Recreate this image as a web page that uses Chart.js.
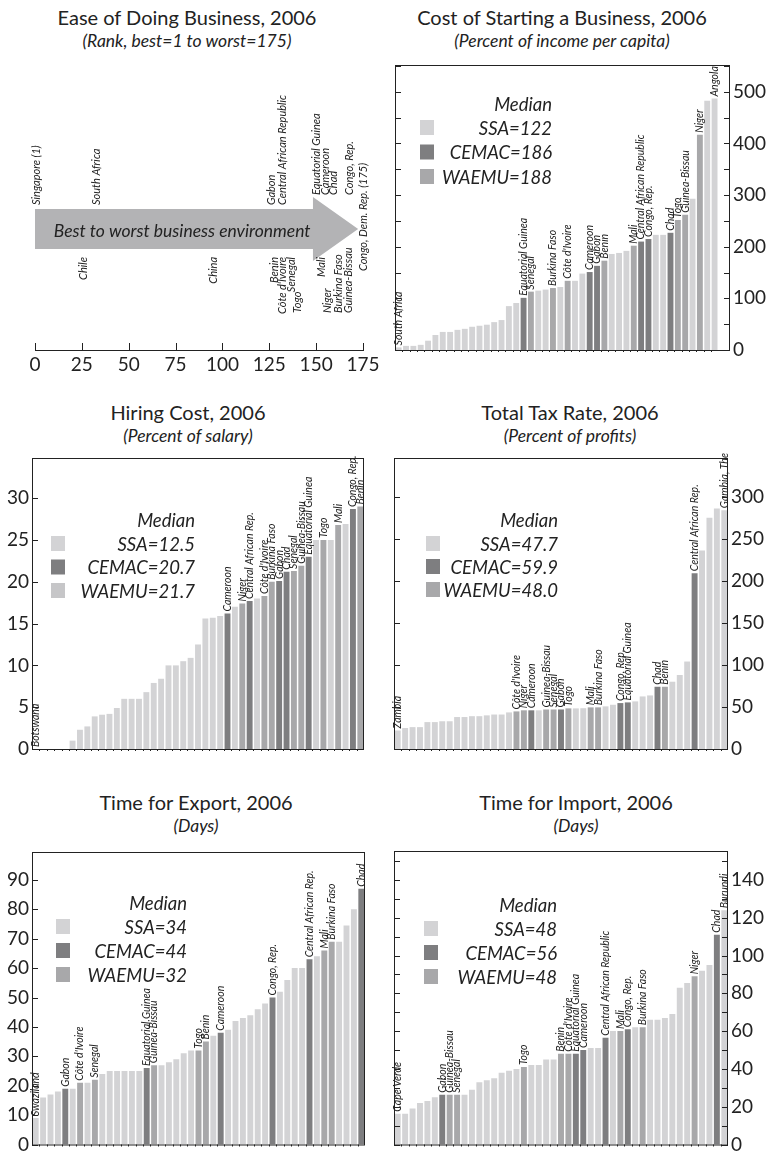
<!DOCTYPE html>
<html lang="en">
<head>
<meta charset="utf-8">
<title>Doing Business indicators, 2006</title>
<script src="https://cdn.jsdelivr.net/npm/chart.js@4.4.1/dist/chart.umd.min.js"></script>
<style>
  html, body { margin: 0; padding: 0; background: #fff; }
  body { position: relative; width: 771px; height: 1157px; overflow: hidden;
         font-family: Lato, "Open Sans", sans-serif; color: #222; }
  .title, .sub { position: absolute; width: 380px; text-align: center; white-space: nowrap; }
  .title { font-size: 20px; line-height: 24px; }
  .sub { font-size: 17.5px; line-height: 21px; font-style: italic; }
  .panel { position: absolute; }
  .panel canvas { display: block; }
</style>
</head>
<body>

<div class="title" style="left:-3px;top:5px">Ease of Doing Business, 2006</div>
<div class="sub" style="left:-3px;top:30px">(Rank, best=1 to worst=175)</div>
<div class="title" style="left:372px;top:5px">Cost of Starting a Business, 2006</div>
<div class="sub" style="left:372px;top:30px">(Percent of income per capita)</div>

<div class="title" style="left:-2px;top:400px">Hiring Cost, 2006</div>
<div class="sub" style="left:-2px;top:425px">(Percent of salary)</div>
<div class="title" style="left:380px;top:400px">Total Tax Rate, 2006</div>
<div class="sub" style="left:380px;top:425px">(Percent of profits)</div>

<div class="title" style="left:6px;top:790px">Time for Export, 2006</div>
<div class="sub" style="left:6px;top:815px">(Days)</div>
<div class="title" style="left:386px;top:790px">Time for Import, 2006</div>
<div class="sub" style="left:386px;top:815px">(Days)</div>

<div class="panel" style="left:0;top:60px"><canvas id="ease" width="385" height="320"></canvas></div>
<div class="panel" style="left:385px;top:48px"><canvas id="cost" width="386" height="316"></canvas></div>
<div class="panel" style="left:0;top:441px"><canvas id="hiring" width="385" height="322"></canvas></div>
<div class="panel" style="left:385px;top:441px"><canvas id="tax" width="386" height="322"></canvas></div>
<div class="panel" style="left:0;top:835px"><canvas id="export" width="385" height="322"></canvas></div>
<div class="panel" style="left:385px;top:834px"><canvas id="import" width="386" height="323"></canvas></div>

<script>
// ---------- Ease of Doing Business: rank out of 175 economies ----------
const easeCountries = ['Singapore (1)', 'Chile', 'South Africa', 'China', 'Gabon', 'Benin',
  'Central African Republic', "Côte d'Ivoire", 'Senegal', 'Togo', 'Equatorial Guinea', 'Mali',
  'Cameroon', 'Niger', 'Chad', 'Burkina Faso', 'Guinea-Bissau', 'Congo, Rep.', 'Congo, Dem. Rep. (175)'];
const easeRanks = [1, 26, 33, 95, 126, 128, 132, 132, 137, 140, 150, 153, 155, 156, 159, 162, 167, 168, 175];
const rankTicks = [0, 25, 50, 75, 100, 125, 150, 175];

// ---------- Cost of starting a business (% of income per capita), sorted ----------
const costValues = [5, 8, 8, 10, 18, 29, 35, 35, 39, 41, 45, 47, 49, 54, 58, 85, 91, 101, 113, 115,
  117, 120, 122, 134, 134, 148, 151, 163, 173, 186, 188, 192, 202, 210, 215, 223, 223, 227, 252, 262,
  293, 417, 483, 487];
const costGroups = 'SSSSSSSSSSSSSSSSSCWSSWSWSSCCWSSSWCCSSCWWSWSS'.split('');
const costNames = { 0: 'South Africa', 17: 'Equatorial Guinea', 18: 'Senegal', 21: 'Burkina Faso',
  23: "Côte d'Ivoire", 26: 'Cameroon', 27: 'Gabon', 28: 'Benin', 32: 'Mali',
  33: 'Central African Republic', 34: 'Congo, Rep.', 37: 'Chad', 38: 'Togo', 39: 'Guinea-Bissau',
  41: 'Niger', 43: 'Angola' };
const costMedians = { S: 122, C: 186, W: 188 };
const costTicks = [0, 50, 100, 150, 200, 250, 300, 350, 400, 450, 500, 550];
const costTickLabels = [0, 100, 200, 300, 400, 500];

// ---------- Hiring cost (% of salary), sorted ----------
const hiringValues = [0, 0, 0, 0, 0, 1.0, 2.3, 2.7, 3.9, 4.1, 4.2, 4.9, 6.0, 6.0, 6.0, 6.8, 7.9, 8.4,
  10.0, 10.0, 10.5, 10.9, 12.5, 15.6, 15.7, 15.9, 16.2, 17.0, 17.4, 17.7, 18.0, 18.3, 20.0, 20.1,
  21.2, 21.3, 21.9, 23.0, 25.0, 25.0, 25.0, 26.8, 26.9, 28.7, 29.0];
const hiringGroups = 'SSSSSSSSSSSSSSSSSSSSSSSSSSCSWCSWWCCWWCSWSWSCW'.split('');
const hiringNames = { 0: 'Botswana', 26: 'Cameroon', 28: 'Niger', 29: 'Central African Rep.',
  31: "Côte d'Ivoire", 32: 'Burkina Faso', 33: 'Gabon', 34: 'Chad', 35: 'Senegal',
  36: 'Guinea-Bissau', 37: 'Equatorial Guinea', 39: 'Togo', 41: 'Mali', 43: 'Congo, Rep.', 44: 'Benin' };
const hiringMedians = { S: 12.5, C: 20.7, W: 21.7 };
const hiringTicks = [0, 5, 10, 15, 20, 25, 30];
const hiringTickLabels = [0, 5, 10, 15, 20, 25, 30];

// ---------- Total tax rate (% of profits), sorted ----------
const taxValues = [22, 25, 26, 26, 32, 32, 33, 33, 38, 38, 39, 39, 40, 41, 41, 43.5, 44.7, 46, 46, 46,
  47, 47, 47, 48.3, 48.3, 48.5, 49.5, 49.5, 50.7, 52.6, 54.6, 55.4, 56.6, 62.5, 63.7, 74, 74, 80, 88,
  104, 209, 236, 275, 286, 284];
const taxGroups = 'SSSSSSSSSSSSSSSSWWCSWWCWSSWWSSCCSSSCWSSSCSSSS'.split('');
const taxNames = { 0: 'Zambia', 16: "Côte d'Ivoire", 17: 'Niger', 18: 'Cameroon', 20: 'Guinea-Bissau',
  21: 'Senegal', 22: 'Gabon', 23: 'Togo', 26: 'Mali', 27: 'Burkina Faso', 30: 'Congo, Rep.',
  31: 'Equatorial Guinea', 35: 'Chad', 36: 'Benin', 40: 'Central African Rep.', 44: 'Gambia, The' };
const taxMedians = { S: 47.7, C: 59.9, W: 48.0 };
const taxTicks = [0, 50, 100, 150, 200, 250, 300];
const taxTickLabels = [0, 50, 100, 150, 200, 250, 300];

// ---------- Time for export (days), sorted ----------
const exportValues = [9, 16, 17, 18, 19, 19, 21, 21, 22, 24, 25, 25, 25, 25, 25, 26, 27, 27, 28, 29,
  31, 32, 32, 35, 37, 38, 39, 42, 43, 44, 46, 48, 50, 52, 56, 60, 60, 63, 64, 66, 69, 69, 74.5, 80, 87];
const exportGroups = 'SSSSCSWSWSSSSSSCWSSSSSWWSCSSSSSSCSSSSCSWWSSSC'.split('');
const exportNames = { 0: 'Swaziland', 4: 'Gabon', 6: "Côte d'Ivoire", 8: 'Senegal',
  15: 'Equatorial Guinea', 16: 'Guinea-Bissau', 22: 'Togo', 23: 'Benin', 25: 'Cameroon',
  32: 'Congo, Rep.', 37: 'Central African Rep.', 39: 'Mali', 40: 'Burkina Faso', 44: 'Chad' };
const exportMedians = { S: 34, C: 44, W: 32 };
const exportTicks = [0, 10, 20, 30, 40, 50, 60, 70, 80, 90];
const exportTickLabels = [0, 10, 20, 30, 40, 50, 60, 70, 80, 90];

// ---------- Time for import (days), sorted ----------
const importValues = [16.3, 16.3, 19, 22, 23, 25, 26.3, 26.3, 26.3, 26.3, 29, 33, 34, 35, 38, 39, 40,
  41, 42, 42, 45, 45, 48, 48, 48, 50, 51, 51, 56.5, 60, 60, 61, 62, 62, 66, 66, 67, 69, 83, 85.4, 89,
  92, 95, 111, 124];
const importGroups = 'SSSSSSCWWSSSSSSSSWSSSSWWCCSSCSWCSWSSSSSSWSSCS'.split('');
const importNames = { 0: 'Cape Verde', 6: 'Gabon', 7: 'Guinea-Bissau', 8: 'Senegal', 17: 'Togo',
  22: 'Benin', 23: "Côte d'Ivoire", 24: 'Equatorial Guinea', 25: 'Cameroon',
  28: 'Central African Republic', 30: 'Mali', 31: 'Congo, Rep.', 33: 'Burkina Faso', 40: 'Niger',
  43: 'Chad', 44: 'Burundi' };
const importMedians = { S: 48, C: 56, W: 48 };
const importTicks = [0, 10, 20, 30, 40, 50, 60, 70, 80, 90, 100, 110, 120, 130, 140, 150];
const importTickLabels = [0, 20, 40, 60, 80, 100, 120, 140];

// ---------- shared styling ----------
const FONT = 'Lato, "Open Sans", sans-serif';
const INK = '#222';
const PALETTE = { S: '#d3d3d5', C: '#7e7e80', W: '#a8a8aa' };
const GROUP_NAMES = { S: 'SSA', C: 'CEMAC', W: 'WAEMU' };
const GROUP_ORDER = ['S', 'C', 'W'];
const EASE_NAME_FONT = `italic 11px ${FONT}`;
const BAR_NAME_FONT = `italic 10.5px ${FONT}`;

Chart.defaults.font.family = FONT;
Chart.defaults.color = INK;

function rotatedText(ctx, text, x, y, align) {
  ctx.save();
  ctx.translate(x, y);
  ctx.rotate(-Math.PI / 2);
  ctx.textAlign = align;
  ctx.textBaseline = 'middle';
  ctx.fillText(text, 0, 0);
  ctx.restore();
}

// fixed tick positions for a value axis
function useTicks(list) {
  return scale => { scale.ticks = list.map(v => ({ value: v })); };
}

// ---------- ranking arrow ----------
// where each country name sits around the arrow
const easePlacement = {
  'Singapore (1)': 'above', 'South Africa': 'above', 'Gabon': 'above',
  'Central African Republic': 'above', 'Equatorial Guinea': 'above', 'Cameroon': 'above',
  'Chad': 'above', 'Congo, Rep.': 'above',
  'Chile': 'below', 'China': 'below', 'Benin': 'below', "Côte d'Ivoire": 'below',
  'Senegal': 'below', 'Mali': 'below',
  'Togo': 'low', 'Niger': 'low', 'Burkina Faso': 'low', 'Guinea-Bissau': 'low',
  'Congo, Dem. Rep. (175)': 'tip'
};
const arrowShape = { headFrom: 148.3, tipAt: 172.4, captionAt: 78.5, rise: 121, body: 20, head: 32 };

const arrowPlugin = {
  id: 'rankArrow',
  afterDatasetsDraw(chart) {
    const { ctx, chartArea: a } = chart;
    const xs = chart.scales.x;
    const cy = a.bottom - arrowShape.rise;
    const x0 = xs.getPixelForValue(rankTicks[0]);
    const xh = xs.getPixelForValue(arrowShape.headFrom);
    const xt = xs.getPixelForValue(arrowShape.tipAt);
    ctx.save();
    ctx.fillStyle = '#b3b3b5';
    ctx.beginPath();
    ctx.moveTo(x0, cy - arrowShape.body);
    ctx.lineTo(xh, cy - arrowShape.body);
    ctx.lineTo(xh, cy - arrowShape.head);
    ctx.lineTo(xt, cy);
    ctx.lineTo(xh, cy + arrowShape.head);
    ctx.lineTo(xh, cy + arrowShape.body);
    ctx.lineTo(x0, cy + arrowShape.body);
    ctx.closePath();
    ctx.fill();

    ctx.fillStyle = INK;
    ctx.font = `italic 17.5px ${FONT}`;
    ctx.textAlign = 'center';
    ctx.textBaseline = 'middle';
    ctx.fillText('Best to worst business environment', xs.getPixelForValue(arrowShape.captionAt), cy + 2);

    ctx.font = EASE_NAME_FONT;
    easeCountries.forEach((name, i) => {
      const x = xs.getPixelForValue(easeRanks[i]);
      const where = easePlacement[name];
      const inHead = x >= xh;
      if (where === 'above') {
        rotatedText(ctx, name, x, inHead ? cy - arrowShape.head - 2 : cy - arrowShape.body - 4, 'left');
      } else if (where === 'below') {
        rotatedText(ctx, name, x, cy + arrowShape.body + 8, 'right');
      } else if (where === 'low') {
        rotatedText(ctx, name, x, cy + 84, 'left');
      } else {
        rotatedText(ctx, name, x, cy - 12, 'center');
      }
    });

    // inward tick marks on the rank axis
    ctx.strokeStyle = INK;
    ctx.lineWidth = 1;
    ctx.beginPath();
    xs.ticks.forEach(t => {
      const px = Math.round(xs.getPixelForValue(t.value)) + 0.5;
      ctx.moveTo(px, a.bottom);
      ctx.lineTo(px, a.bottom - 7);
    });
    ctx.stroke();
    ctx.restore();
  }
};

new Chart(document.getElementById('ease'), {
  type: 'scatter',
  data: { datasets: [{ data: easeRanks.map(r => ({ x: r, y: 0 })), pointRadius: 0 }] },
  options: {
    responsive: false, animation: false, devicePixelRatio: 1, events: [],
    layout: { padding: { left: 35, right: 22, top: 0, bottom: 0 } },
    plugins: { legend: { display: false }, tooltip: { enabled: false } },
    scales: {
      x: {
        type: 'linear', min: rankTicks[0], max: rankTicks[rankTicks.length - 1],
        border: { display: true, color: INK, width: 1 },
        grid: { display: false, drawTicks: false },
        ticks: { autoSkip: false, padding: 3, color: INK, font: { size: 19 } },
        afterBuildTicks: useTicks(rankTicks),
        afterFit: s => { s.height = 30; }
      },
      y: { display: false, min: 0, max: 1 }
    }
  },
  plugins: [arrowPlugin]
});

// ---------- sorted bar panels ----------
function barPanel(id, d, look) {
  const framePlugin = {
    id: 'frame_' + id,
    afterDatasetsDraw(chart) {
      const { ctx, chartArea: a } = chart;
      const ys = chart.scales.y;
      const xsc = chart.scales.x;
      ctx.save();
      // bar names, written upward from the top of each bar
      ctx.fillStyle = INK;
      ctx.font = BAR_NAME_FONT;
      const meta = chart.getDatasetMeta(0);
      Object.keys(d.names).forEach(k => {
        const el = meta.data[+k];
        rotatedText(ctx, d.names[k], el.x, el.y - 2, 'left');
      });

      // frame and inward ticks
      ctx.strokeStyle = INK;
      ctx.lineWidth = 1;
      ctx.strokeRect(a.left + 0.5, a.top + 0.5, a.right - a.left - 1, a.bottom - a.top);
      ctx.beginPath();
      ys.ticks.forEach(t => {
        const py = Math.round(ys.getPixelForValue(t.value)) + 0.5;
        if (look.tickSides.includes('left')) { ctx.moveTo(a.left, py); ctx.lineTo(a.left + 6, py); }
        if (look.tickSides.includes('right')) { ctx.moveTo(a.right, py); ctx.lineTo(a.right - 6, py); }
      });
      // small marks under the baseline between neighbouring bars
      for (let i = 1; i < d.values.length; i++) {
        const px = Math.round(xsc.getPixelForValue(i - 0.5)) + 0.5;
        ctx.moveTo(px, a.bottom);
        ctx.lineTo(px, a.bottom + 2);
      }
      ctx.stroke();

      // median key
      const L = look.legend;
      const xr = a.left + L.right, xs = a.left + L.sq, y0 = a.top + L.top;
      ctx.font = `italic 18.5px ${FONT}`;
      ctx.textAlign = 'right';
      ctx.textBaseline = 'alphabetic';
      ctx.fillText('Median', xr, y0);
      GROUP_ORDER.forEach((g, k) => {
        const sy = y0 + 9 + k * L.row;
        ctx.fillStyle = (look.swatch && look.swatch[g]) || PALETTE[g];
        ctx.fillRect(xs, sy, 14, 15);
        ctx.fillStyle = INK;
        ctx.fillText(`${GROUP_NAMES[g]}=${d.medians[g].toFixed(d.digits)}`, xr, sy + 14.5);
      });
      ctx.restore();
    }
  };

  new Chart(document.getElementById(id), {
    type: 'bar',
    data: {
      datasets: [{
        data: d.values.map((v, i) => ({ x: i, y: v })),
        backgroundColor: d.groups.map(g => PALETTE[g]),
        borderWidth: 0,
        barPercentage: 1,
        categoryPercentage: 0.8
      }]
    },
    options: {
      responsive: false, animation: false, devicePixelRatio: 1, events: [],
      layout: { padding: look.pad },
      plugins: { legend: { display: false }, tooltip: { enabled: false } },
      scales: {
        x: { type: 'linear', display: false, offset: false, min: look.slots[0], max: look.slots[1] },
        y: {
          position: look.axis, min: 0, max: d.max,
          border: { display: false },
          grid: { display: false, drawTicks: false },
          ticks: {
            autoSkip: false, padding: 3, color: INK, font: { size: 19, lineHeight: 1.0 },
            callback: v => (d.tickLabels.includes(v) ? String(v) : '')
          },
          afterBuildTicks: useTicks(d.ticks),
          afterFit: s => { s.width = look.axisWidth; }
        }
      }
    },
    plugins: [framePlugin]
  });
}

barPanel('cost',
  { values: costValues, groups: costGroups, names: costNames, medians: costMedians, digits: 0,
    max: 552, ticks: costTicks, tickLabels: costTickLabels },
  { axis: 'right', axisWidth: 38, slots: [-0.5, 45.1], tickSides: ['left', 'right'],
    pad: { left: 10, right: 3, top: 17, bottom: 14 },
    legend: { right: 157, sq: 25, top: 46, row: 24.5 } });

barPanel('hiring',
  { values: hiringValues, groups: hiringGroups, names: hiringNames, medians: hiringMedians, digits: 1,
    max: 34.8, ticks: hiringTicks, tickLabels: hiringTickLabels },
  { axis: 'left', axisWidth: 30, slots: [-0.5, 44.5], tickSides: ['left'],
    pad: { left: 2, right: 21, top: 17, bottom: 14 },
    legend: { right: 163, sq: 19, top: 69, row: 23.5 }, swatch: { W: '#c6c6c8' } });

barPanel('tax',
  { values: taxValues, groups: taxGroups, names: taxNames, medians: taxMedians, digits: 1,
    max: 346, ticks: taxTicks, tickLabels: taxTickLabels },
  { axis: 'right', axisWidth: 40, slots: [-0.5, 44.5], tickSides: ['left', 'right'],
    pad: { left: 9, right: 3, top: 17, bottom: 14 },
    legend: { right: 164, sq: 32, top: 69, row: 23 } });

barPanel('export',
  { values: exportValues, groups: exportGroups, names: exportNames, medians: exportMedians, digits: 0,
    max: 99.5, ticks: exportTicks, tickLabels: exportTickLabels },
  { axis: 'left', axisWidth: 30, slots: [-0.5, 44.5], tickSides: ['left'],
    pad: { left: 2, right: 20, top: 17, bottom: 10 },
    legend: { right: 155, sq: 24, top: 58, row: 24 } });

barPanel('import',
  { values: importValues, groups: importGroups, names: importNames, medians: importMedians, digits: 0,
    max: 155.3, ticks: importTicks, tickLabels: importTickLabels },
  { axis: 'right', axisWidth: 40, slots: [-0.5, 44.5], tickSides: ['left', 'right'],
    pad: { left: 9, right: 3, top: 17, bottom: 11 },
    legend: { right: 163, sq: 30, top: 61, row: 24 } });
</script>
</body>
</html>
